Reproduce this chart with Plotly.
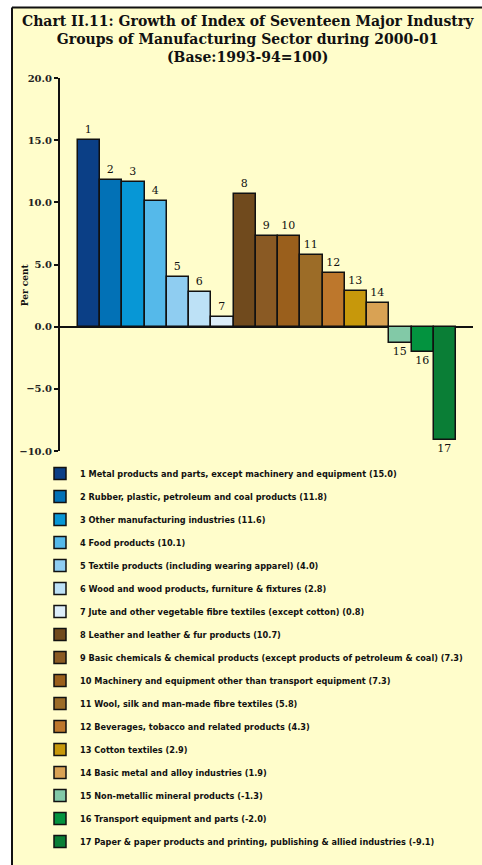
import plotly.graph_objects as go

# Industry groups (index number, name) and growth in per cent
group_ids = list(range(1, 18))
group_names = [
    "Metal products and parts, except machinery and equipment",
    "Rubber, plastic, petroleum and coal products",
    "Other manufacturing industries",
    "Food products",
    "Textile products (including wearing apparel)",
    "Wood and wood products, furniture & fixtures",
    "Jute and other vegetable fibre textiles (except cotton)",
    "Leather and leather & fur products",
    "Basic chemicals & chemical products (except products of petroleum & coal)",
    "Machinery and equipment other than transport equipment",
    "Wool, silk and man-made fibre textiles",
    "Beverages, tobacco and related products",
    "Cotton textiles",
    "Basic metal and alloy industries",
    "Non-metallic mineral products",
    "Transport equipment and parts",
    "Paper & paper products and printing, publishing & allied industries",
]
growth = [15.0, 11.8, 11.6, 10.1, 4.0, 2.8, 0.8,
          10.7, 7.3, 7.3, 5.8, 4.3, 2.9, 1.9,
          -1.3, -2.0, -9.1]
bar_colors = [
    "#0B3F86", "#0271B6", "#0797D6", "#55B9EA", "#8FCDF1", "#BDE1F6", "#DDEEF9",
    "#704A1D", "#8A5A24", "#9A5F1C", "#9C6C27", "#BD772C", "#C7980B", "#D9A254",
    "#82C9A7", "#03933F", "#0A7E36",
]
y_ticks = [20, 15, 10, 5, 0, -5, -10]

BG = "#FFFDCB"
W, H = 482, 865
L, R, T, B = 60, 9, 78, 411
pw, ph = W - L - R, H - T - B


def px_x(p):
    return (p - L) / pw


def px_y(p):
    return (H - B - p) / ph


fig = go.Figure()
for gid, name, val, col in zip(group_ids, group_names, growth, bar_colors):
    fig.add_trace(go.Bar(
        x=[gid], y=[val],
        name=f"{gid} {name} ({val:.1f})",
        legendgroup=str(gid),
        marker=dict(color=col, line=dict(color="#111111", width=1.5)),
        text=[str(gid)], textposition="outside", cliponaxis=False,
        textfont=dict(family="DejaVu Serif", size=11, color="#111111"),
        hoverinfo="skip",
    ))

fig.update_layout(
    width=W, height=H,
    margin=dict(l=L, r=R, t=T, b=B),
    paper_bgcolor="white", plot_bgcolor="rgba(0,0,0,0)",
    barmode="overlay", bargap=0,
    xaxis=dict(range=[-0.31, 18.26], showticklabels=False, showgrid=False,
               zeroline=False, showline=False, ticks=""),
    yaxis=dict(range=[-10, 20], tickvals=y_ticks, tickformat=".1f",
               showgrid=False, showline=True, linecolor="#111111", linewidth=2,
               ticks="outside", ticklen=4, tickwidth=1.5, tickcolor="#111111",
               zeroline=True, zerolinecolor="#111111", zerolinewidth=2,
               tickfont=dict(family="DejaVu Serif", size=10, color="#222222",
                             weight="bold")),
    legend=dict(
        x=px_x(40), xanchor="left", y=px_y(462), yanchor="top",
        bgcolor="rgba(0,0,0,0)", tracegroupgap=4,
        font=dict(family="DejaVu Sans", size=8.2, color="#111111", weight="bold"),
    ),
    shapes=[
        dict(type="rect", xref="paper", yref="paper", layer="below",
             x0=px_x(12), x1=px_x(490), y0=px_y(880), y1=px_y(7),
             fillcolor=BG, line=dict(width=0)),
        dict(type="line", xref="paper", yref="paper",
             x0=px_x(12), x1=px_x(490), y0=px_y(7), y1=px_y(7),
             line=dict(color="#111111", width=2)),
        dict(type="line", xref="paper", yref="paper",
             x0=px_x(12), x1=px_x(12), y0=px_y(880), y1=px_y(7),
             line=dict(color="#111111", width=2)),
    ],
    annotations=[
        dict(text="Chart II.11: Growth of Index of Seventeen Major Industry<br>"
                  "Groups of Manufacturing Sector during 2000-01<br>(Base:1993-94=100)",
             xref="paper", yref="paper", x=px_x(248), y=px_y(10),
             xanchor="center", yanchor="top", showarrow=False, align="center",
             font=dict(family="DejaVu Serif", size=14, color="#111111",
                       weight="bold")),
        dict(text="Per cent", textangle=-90, xref="paper", yref="paper",
             x=px_x(18), y=px_y(287), showarrow=False,
             font=dict(family="DejaVu Serif", size=9, color="#111111", weight="bold")),
    ],
)

fig.write_html("out.html")
